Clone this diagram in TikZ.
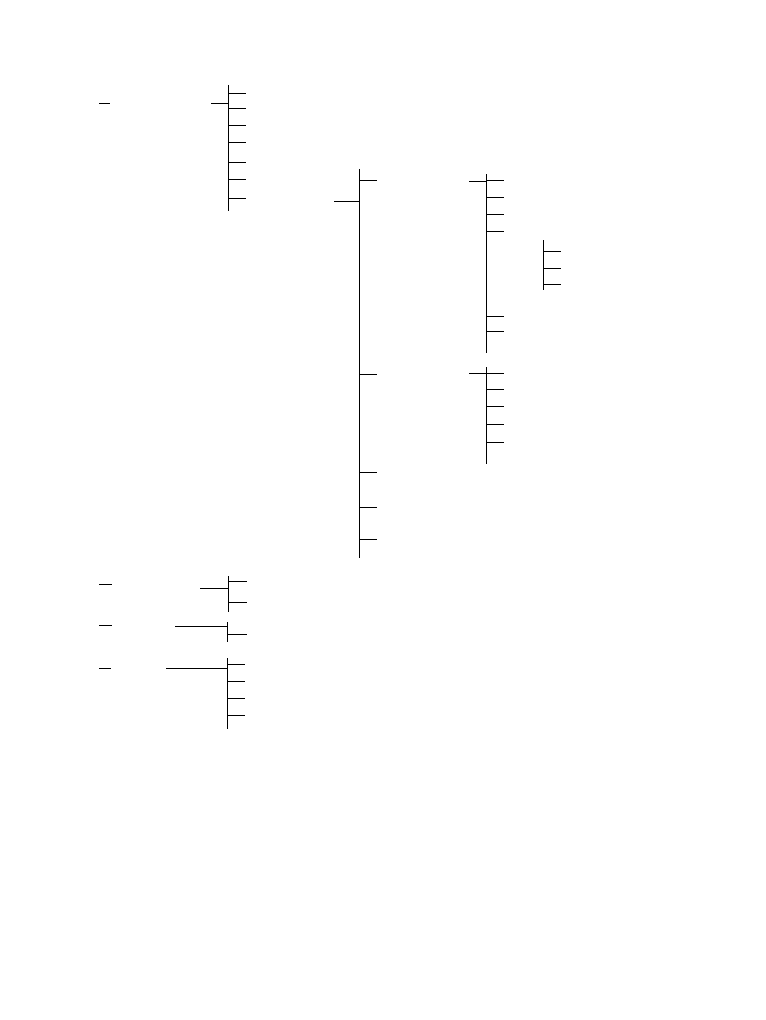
\documentclass[tikz,border=0pt]{standalone}
\usetikzlibrary{positioning}

\begin{document}
\begin{tikzpicture}[
            x = 0.75pt,
            y = -0.75pt,
            line width = 0.6pt,
            bar/.style = {draw},
            tick/.style = {draw}
        ]
        \useasboundingbox (0,0) rectangle (766,1020);

        % top group
        \coordinate (r1) at (99,103);
        \coordinate (b1) at (228,85);
        \coordinate (b1e) at (228,211);
        \path[tick] (r1) -- ++(11,0);
        \path[bar] (b1) -- (b1e);
        \path[tick] (211,103) -- (r1 -| b1);
        \foreach \y in {93,108,125,142,162,179,198}
            \path[tick] (b1 |- 0,\y) -- ++(18,0);

        % middle tree
        \coordinate (b2) at (359,169);
        \coordinate (b2e) at (359,558);
        \path[bar] (b2) -- (b2e);
        \path[tick] (334,201) -- (b2 |- 0,201);
        \foreach \y in {180,374,472,507,539}
            \path[tick] (b2 |- 0,\y) -- ++(18,0);

        \coordinate (b3) at (486,174);
        \coordinate (b3e) at (486,353);
        \path[bar] (b3) -- (b3e);
        \path[tick] (469,181) -- (b3 |- 0,181);
        \foreach \y in {180,197,214,231,316,331}
            \path[tick] (b3 |- 0,\y) -- ++(18,0);

        \coordinate (b4) at (543,240);
        \coordinate (b4e) at (543,290);
        \path[bar] (b4) -- (b4e);
        \foreach \y in {251,268,284}
            \path[tick] (b4 |- 0,\y) -- ++(18,0);

        \coordinate (b5) at (486,367);
        \coordinate (b5e) at (486,464);
        \path[bar] (b5) -- (b5e);
        \path[tick] (469,373) -- (b5 |- 0,373);
        \foreach \y in {373,389,406,424,442}
            \path[tick] (b5 |- 0,\y) -- ++(18,0);

        % bottom groups
        \coordinate (r2) at (99,584);
        \coordinate (b6) at (228,576);
        \coordinate (b6e) at (228,612);
        \path[tick] (r2) -- ++(13,0);
        \path[bar] (b6) -- (b6e);
        \path[tick] (200,588) -- (b6 |- 0,588);
        \foreach \y in {581,602}
            \path[tick] (b6 |- 0,\y) -- ++(19,0);

        \coordinate (r3) at (99,625);
        \coordinate (b7) at (227,622);
        \coordinate (b7e) at (227,642);
        \path[tick] (r3) -- ++(13,0);
        \path[bar] (b7) -- (b7e);
        \path[tick] (175,626) -- (b7 |- 0,626);
        \path[tick] (b7 |- 0,634) -- ++(20,0);

        \coordinate (r4) at (99,668);
        \coordinate (b8) at (227,658);
        \coordinate (b8e) at (227,729);
        \path[tick] (r4) -- ++(12,0);
        \path[bar] (b8) -- (b8e);
        \path[tick] (166,668) -- (b8 |- 0,668);
        \foreach \y in {664,681,698,715}
            \path[tick] (b8 |- 0,\y) -- ++(18,0);
    \end{tikzpicture}
\end{document}
